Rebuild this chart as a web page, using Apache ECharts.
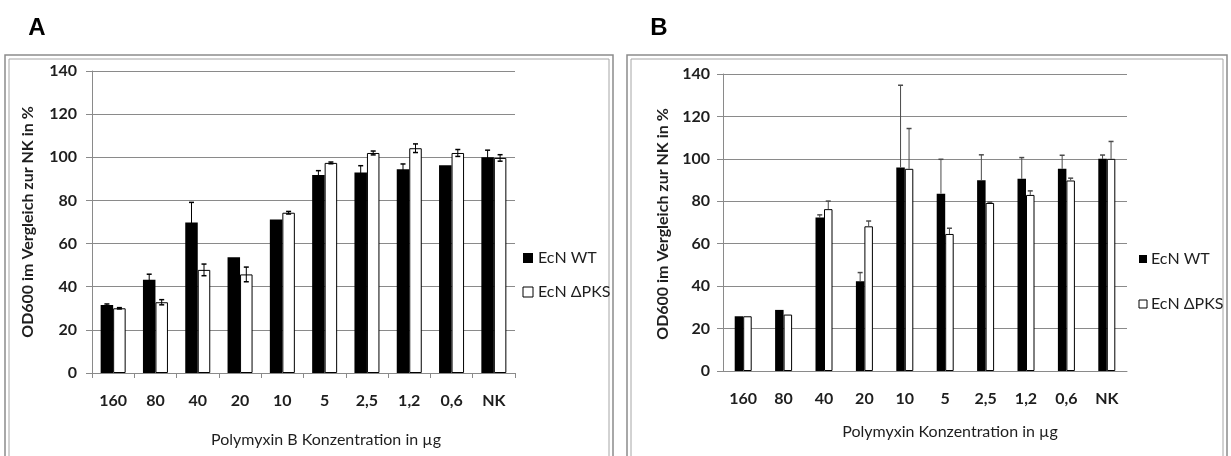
<!DOCTYPE html>
<html>
<head>
<meta charset="utf-8">
<script src="https://cdn.jsdelivr.net/npm/echarts@6/dist/echarts.min.js"></script>
<style>
  html, body { margin: 0; padding: 0; background: #fff; }
  #chart { width: 1231px; height: 456px; }
</style>
</head>
<body>
<div id="chart"></div>
<script>
// Polymyxin concentrations (µg) and the negative control
const categories = ['160', '80', '40', '20', '10', '5', '2,5', '1,2', '0,6', 'NK'];
const yTicks = [0, 20, 40, 60, 80, 100, 120, 140];

// Panel A: Polymyxin B
const wtA      = [31.5, 43.2, 69.8, 53.7, 71.2, 91.8, 93.0, 94.4, 96.3, 100.0];
const wtAErr   = [0.5, 2.6, 9.3, 0, 0, 2.0, 3.1, 2.5, 0, 3.3];
const pksA     = [30.0, 32.8, 47.8, 45.7, 74.3, 97.4, 102.0, 104.2, 102.0, 99.7];
const pksAErr  = [0.3, 1.2, 2.7, 3.4, 0.6, 0.4, 0.9, 2.0, 1.6, 1.5];

// Panel B: Polymyxin
const wtB      = [25.8, 28.8, 72.3, 42.3, 95.9, 83.6, 89.9, 90.6, 95.3, 100.0];
const wtBErr   = [0, 0, 1.3, 4.1, 38.8, 16.2, 12.0, 10.0, 6.4, 1.8];
const pksB     = [25.8, 26.6, 76.3, 68.2, 95.3, 64.6, 79.2, 83.0, 89.8, 100.0];
const pksBErr  = [0, 0, 3.8, 2.5, 19.0, 2.7, 0.4, 1.9, 1.1, 8.2];

const seriesNames = ['EcN WT', 'EcN \u0394PKS'];

const FONT = 'Lato, "Open Sans", sans-serif';
const GRID_GRAY = '#8a8a8a';
const TEXT = '#1e1e1e';

const chart = echarts.init(document.getElementById('chart'), null, { renderer: 'canvas' });

function xAxisFor(gridIndex, showTicks) {
  return {
    type: 'category', gridIndex, data: categories,
    axisLine: { lineStyle: { color: GRID_GRAY, width: 1 } },
    axisTick: { show: showTicks, length: 5, lineStyle: { color: GRID_GRAY } },
    axisLabel: { color: TEXT, fontFamily: FONT, fontSize: 16, fontWeight: 'bold', margin: 20 },
    splitLine: { show: false }
  };
}

function yAxisFor(gridIndex, margin) {
  return {
    type: 'value', gridIndex, min: yTicks[0], max: yTicks[yTicks.length - 1], interval: 20,
    axisLine: { show: true, lineStyle: { color: GRID_GRAY, width: 1 } },
    axisTick: { show: true, length: 6, lineStyle: { color: GRID_GRAY } },
    axisLabel: { color: TEXT, fontFamily: FONT, fontSize: 16, fontWeight: 'bold', margin },
    splitLine: { show: true, lineStyle: { color: GRID_GRAY, width: 1 } }
  };
}

function barSeries(name, gridIndex, values, filled, barW) {
  return {
    name, type: 'bar', xAxisIndex: gridIndex, yAxisIndex: gridIndex,
    data: values, barWidth: barW, barGap: '0%',
    itemStyle: filled
      ? { color: '#000000', borderColor: '#000000', borderWidth: 0 }
      : { color: '#ffffff', borderColor: '#000000', borderWidth: 1 },
    emphasis: { disabled: true },
    z: 2
  };
}

// Error bars over the left (WT) or right (ΔPKS) bar of each group;
// "both" draws the whisker in both directions, otherwise only upward
function errorSeries(name, gridIndex, values, errors, side, barW, color, both) {
  return {
    name, type: 'custom', xAxisIndex: gridIndex, yAxisIndex: gridIndex,
    data: values.map((v, i) => [i, v, errors[i]]),
    encode: { x: 0, y: 1 },
    silent: true, z: 10,
    renderItem(params, api) {
      const i = api.value(0), v = api.value(1), e = api.value(2);
      if (!e) return null;
      const x = api.coord([i, v])[0] + side * barW / 2;
      const top = api.coord([i, v + e])[1];
      const bot = api.coord([i, both ? v - e : v])[1];
      const cap = 2.5;
      const children = [
        { type: 'line', shape: { x1: x, y1: top, x2: x, y2: bot }, style: { stroke: color, lineWidth: 1 } },
        { type: 'line', shape: { x1: x - cap, y1: top, x2: x + cap, y2: top }, style: { stroke: color, lineWidth: 1.5 } }
      ];
      if (both) {
        children.push({ type: 'line', shape: { x1: x - cap, y1: bot, x2: x + cap, y2: bot }, style: { stroke: color, lineWidth: 1.5 } });
      }
      return { type: 'group', children };
    }
  };
}

function frame(x, y, w, h) {
  return [
    { type: 'rect', shape: { x, y, width: w, height: h }, style: { fill: 'none', stroke: '#8c8c8c', lineWidth: 1.5 }, silent: true },
    { type: 'rect', shape: { x: x + 4, y: y + 4, width: w - 8, height: h }, style: { fill: 'none', stroke: '#a6a6a6', lineWidth: 1 }, silent: true }
  ];
}

function label(text, x, y, opts) {
  return Object.assign({
    type: 'text', x, y, silent: true,
    style: Object.assign({ text, fill: TEXT, font: '16px ' + FONT, align: 'center', verticalAlign: 'middle' }, opts && opts.style)
  }, opts && opts.el);
}

// Key: a swatch plus its series name per row
function legendRows(x, ys, size, textGap, fontSize) {
  const out = [];
  seriesNames.forEach((name, k) => {
    const filled = k === 0;
    out.push({
      type: 'rect', silent: true,
      shape: { x: x, y: ys[k] - size / 2, width: size, height: size },
      style: filled ? { fill: '#000' } : { fill: '#fff', stroke: '#000', lineWidth: 1 }
    });
    out.push({
      type: 'text', silent: true, x: x + size + textGap, y: ys[k],
      style: { text: name, fill: TEXT, font: fontSize + 'px ' + FONT, align: 'left', verticalAlign: 'middle' }
    });
  });
  return out;
}

const BW_A = 12.5, BW_B = 8.5;

const option = {
  animation: false,
  backgroundColor: '#ffffff',
  grid: [
    { left: 92, top: 71, width: 423, height: 302 },
    { left: 723, top: 74, width: 404, height: 297 }
  ],
  xAxis: [xAxisFor(0, true), xAxisFor(1, false)],
  yAxis: [yAxisFor(0, 15), yAxisFor(1, 13)],
  series: [
    barSeries(seriesNames[0], 0, wtA, true, BW_A),
    barSeries(seriesNames[1], 0, pksA, false, BW_A),
    barSeries(seriesNames[0], 1, wtB, true, BW_B),
    barSeries(seriesNames[1], 1, pksB, false, BW_B),
    errorSeries('errWtA', 0, wtA, wtAErr, -1, BW_A, '#000000', true),
    errorSeries('errPksA', 0, pksA, pksAErr, 1, BW_A, '#000000', true),
    errorSeries('errWtB', 1, wtB, wtBErr, -1, BW_B, '#4a4a4a', false),
    errorSeries('errPksB', 1, pksB, pksBErr, 1, BW_B, '#4a4a4a', false)
  ],
  graphic: [
    ...frame(5, 55, 608, 420),
    ...frame(627, 55, 600, 420),
    label('A', 37, 28, { style: { font: 'bold 24px "Liberation Sans", Arial, sans-serif', fill: '#000' } }),
    label('B', 659, 28, { style: { font: 'bold 24px "Liberation Sans", Arial, sans-serif', fill: '#000' } }),
    label('OD600 im Vergleich zur NK in %', 28, 222, { el: { rotation: Math.PI / 2 }, style: { font: 'bold 16px ' + FONT } }),
    label('OD600 im Vergleich zur NK in %', 663, 224, { el: { rotation: Math.PI / 2 }, style: { font: 'bold 16px ' + FONT } }),
    label('Polymyxin B Konzentration in \u00b5g', 326, 440, { style: { font: '16px ' + FONT } }),
    label('Polymyxin Konzentration in \u00b5g', 950, 432, { style: { font: '16px ' + FONT } }),
    ...legendRows(523, [258, 292], 10, 5, 16),
    ...legendRows(1139, [259, 304], 8, 4, 16)
  ]
};

chart.setOption(option);
</script>
</body>
</html>
